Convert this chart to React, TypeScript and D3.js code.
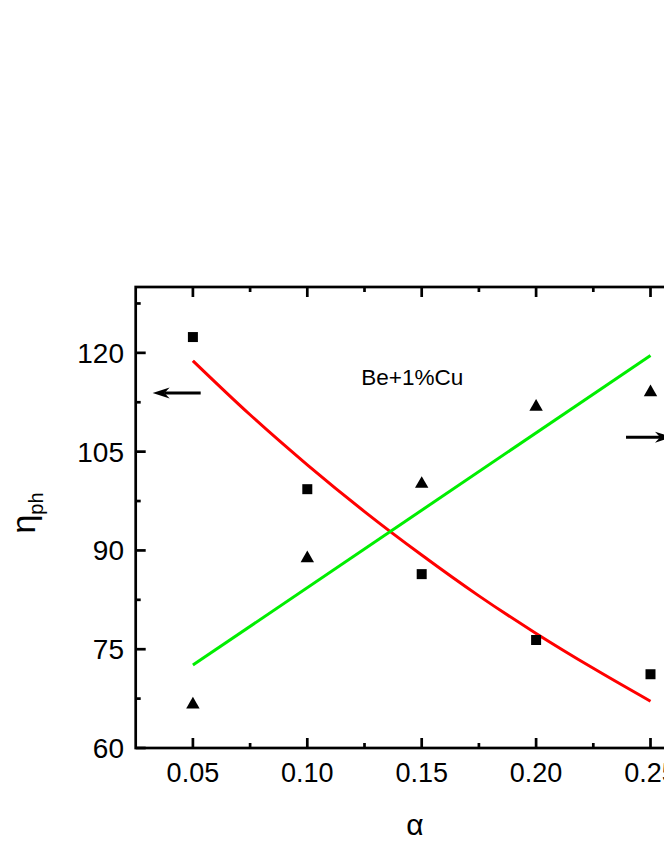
import * as d3 from "d3"
import React, { useEffect, useRef } from "react"

// measured points (squares -> left axis, triangles -> right axis)
const alphaValues = [0.05, 0.10, 0.15, 0.20, 0.25]
const etaSquares = [122.4, 99.3, 86.4, 76.4, 71.2]
const rightTriangles = [66.6, 88.8, 100.1, 111.8, 114.0]

// fitted curves
const redAlpha = [0.05, 0.075, 0.10, 0.125, 0.15, 0.175, 0.20, 0.225, 0.25]
const redFit = [118.8, 110.6, 103.0, 95.9, 89.3, 83.1, 77.4, 72.1, 67.1]
const greenAlpha = [0.05, 0.25]
const greenFit = [72.6, 119.6]

const xTicks = [0.05, 0.10, 0.15, 0.20, 0.25]
const xMinor = [0.075, 0.125, 0.175, 0.225]
const yTicks = [60, 75, 90, 105, 120]
const yMinor = [67.5, 82.5, 97.5, 112.5, 127.5]

// annotations: [alpha, value], tail then tip
const leftArrow = [[0.0534, 113.9], [0.0324, 113.9]]
const rightArrow = [[0.2393, 107.2], [0.2594, 107.2]]
const sampleLabel = { text: "Be+1%Cu", alpha: 0.1236, value: 115.1 }

const W = 664
const H = 860
const FONT = "'Liberation Sans', Arial, sans-serif"

const App = () => {
    const ref = useRef(null)

    useEffect(() => {
        const svg = d3.select(ref.current)
        svg.selectAll("*").remove()

        const left = 135.7, right = 707.7, top = 287, bottom = 748

        const x = d3.scaleLinear().domain([0.025, 0.275]).range([left, right])
        const y = d3.scaleLinear().domain([60, 130]).range([bottom, top])
        // right axis lies outside the picture; same span assumed
        const yRight = d3.scaleLinear().domain([60, 130]).range([bottom, top])

        // frame
        svg.append("rect")
            .attr("x", left).attr("y", top)
            .attr("width", right - left).attr("height", bottom - top)
            .attr("fill", "none").attr("stroke", "#000").attr("stroke-width", 2.7)

        const g = svg.append("g").attr("stroke", "#000").attr("stroke-width", 2.7)
        // x ticks, bottom and top, inward
        xTicks.forEach(t => {
            g.append("line").attr("x1", x(t)).attr("x2", x(t)).attr("y1", bottom).attr("y2", bottom - 10)
            g.append("line").attr("x1", x(t)).attr("x2", x(t)).attr("y1", top).attr("y2", top + 10)
        })
        xMinor.forEach(t => {
            g.append("line").attr("x1", x(t)).attr("x2", x(t)).attr("y1", bottom).attr("y2", bottom - 5)
            g.append("line").attr("x1", x(t)).attr("x2", x(t)).attr("y1", top).attr("y2", top + 5)
        })
        // y ticks, left and right, inward
        yTicks.forEach(t => {
            g.append("line").attr("x1", left).attr("x2", left + 10).attr("y1", y(t)).attr("y2", y(t))
            g.append("line").attr("x1", right).attr("x2", right - 10).attr("y1", y(t)).attr("y2", y(t))
        })
        yMinor.forEach(t => {
            g.append("line").attr("x1", left).attr("x2", left + 5).attr("y1", y(t)).attr("y2", y(t))
            g.append("line").attr("x1", right).attr("x2", right - 5).attr("y1", y(t)).attr("y2", y(t))
        })

        // tick labels
        svg.append("g").selectAll("text")
            .data(xTicks)
            .join("text")
            .attr("x", d => x(d))
            .attr("y", 782)
            .attr("text-anchor", "middle")
            .attr("font-family", FONT)
            .attr("font-size", 27)
            .text(d => d3.format(".2f")(d))
        svg.append("g").selectAll("text")
            .data(yTicks)
            .join("text")
            .attr("x", 124)
            .attr("y", d => y(d) + 10)
            .attr("text-anchor", "end")
            .attr("font-family", FONT)
            .attr("font-size", 28)
            .text(d => d)

        // axis titles
        svg.append("text")
            .attr("x", 415).attr("y", 835)
            .attr("text-anchor", "middle")
            .attr("font-family", FONT)
            .attr("font-size", 30)
            .text("α")
        const yTitle = svg.append("text")
            .attr("transform", "translate(35, 513) rotate(-90)")
            .attr("text-anchor", "middle")
            .attr("font-family", FONT)
            .attr("font-size", 34)
        yTitle.append("tspan").text("η")
        yTitle.append("tspan").attr("font-size", 20).attr("dy", 7.5).text("ph")

        // fitted curves
        const redLine = d3.line().x(d => x(d[0])).y(d => y(d[1])).curve(d3.curveMonotoneX)
        svg.append("path")
            .attr("d", redLine(d3.zip(redAlpha, redFit)))
            .attr("fill", "none").attr("stroke", "#ff0000").attr("stroke-width", 3)
        const greenLine = d3.line().x(d => x(d[0])).y(d => yRight(d[1]))
        svg.append("path")
            .attr("d", greenLine(d3.zip(greenAlpha, greenFit)))
            .attr("fill", "none").attr("stroke", "#00ee00").attr("stroke-width", 3)

        // markers
        svg.append("g").selectAll("path")
            .data(d3.zip(alphaValues, etaSquares))
            .join("path")
            .attr("transform", d => `translate(${x(d[0])}, ${y(d[1])})`)
            .attr("d", d3.symbol(d3.symbolSquare, 100))
            .attr("fill", "#000")
        svg.append("g").selectAll("path")
            .data(d3.zip(alphaValues, rightTriangles))
            .join("path")
            .attr("transform", d => `translate(${x(d[0])}, ${yRight(d[1])})`)
            .attr("d", d3.symbol(d3.symbolTriangle, 78))
            .attr("fill", "#000")

        // arrows
        const drawArrow = (pts, scale) => {
            const [x0, y0] = [x(pts[0][0]), scale(pts[0][1])]
            const [x1, y1] = [x(pts[1][0]), scale(pts[1][1])]
            const dir = Math.sign(x1 - x0)
            const headLen = 17
            svg.append("line")
                .attr("x1", x0).attr("y1", y0)
                .attr("x2", x1 - dir * headLen * 0.7).attr("y2", y1)
                .attr("stroke", "#000").attr("stroke-width", 3)
            svg.append("path")
                .attr("d", `M${x1},${y1} L${x1 - dir * headLen},${y1 - 5.5} L${x1 - dir * headLen * 0.7},${y1} L${x1 - dir * headLen},${y1 + 5.5} Z`)
                .attr("fill", "#000")
        }
        drawArrow(leftArrow, y)
        drawArrow(rightArrow, yRight)

        svg.append("text")
            .attr("x", x(sampleLabel.alpha))
            .attr("y", y(sampleLabel.value))
            .attr("font-family", FONT)
            .attr("font-size", 22.5)
            .text(sampleLabel.text)
    }, [])

    return (
        <svg ref={ref} width={W} height={H}
            style={{ position: "absolute", left: 0, top: 0, background: "#fff" }} />
    )
}

export default App
